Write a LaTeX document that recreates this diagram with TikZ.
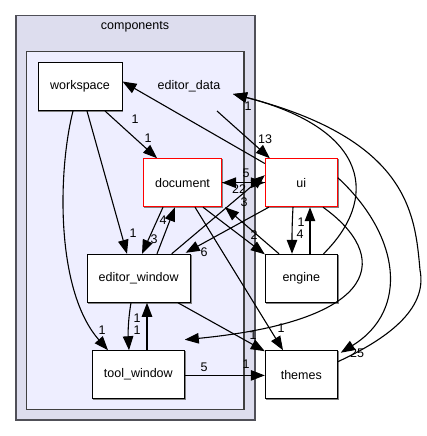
\documentclass[tikz,border=0pt]{standalone}
\usepackage{fontspec}
\setmainfont{Liberation Sans}
\usetikzlibrary{arrows.meta,calc}
\begin{document}
\begin{tikzpicture}[x=1pt,y=-1pt,
  dirbox/.style={draw=black,fill=white,line width=1pt,minimum height=48pt,inner sep=0pt,font=\fontsize{12.5}{14}\selectfont,
    preaction={draw=gray,line width=1pt,transform canvas={shift={(0.9pt,-0.9pt)}}}},
  redbox/.style={dirbox,draw=red},
  edge/.style={draw=black,line width=1.1pt,-{Triangle[length=14pt,width=10.5pt]}},
  lbl/.style={font=\fontsize{12.5}{14}\selectfont,inner sep=0pt}]
\useasboundingbox (0,0) rectangle (427,436);
% clusters
\draw[fill={rgb,255:red,221;green,221;blue,238},draw={rgb,255:red,80;green,80;blue,88},line width=1.6pt] (15.7,15.7) rectangle (254.7,420);
\node[lbl] (comp) at (135,27) {components};
\draw[fill={rgb,255:red,238;green,238;blue,255},draw={rgb,255:red,64;green,64;blue,64},line width=1.4pt] (26.7,51.7) rectangle (244,409.3);
\node[lbl] (edata) at (189,86) {editor\_data};
\coordinate (edin) at (233,94);
\coordinate (edout) at (217,111);
% nodes
\node[dirbox,minimum width=84pt] (workspace) at (80,86.5) {workspace};
\node[redbox,minimum width=78pt] (document) at (182.5,182.7) {document};
\node[redbox,minimum width=72pt] (ui) at (301.3,182.7) {ui};
\node[dirbox,minimum width=103pt] (editorwin) at (138.7,278.3) {editor\_window};
\node[dirbox,minimum width=72pt] (engine) at (301.3,278.3) {engine};
\node[dirbox,minimum width=92pt] (toolwin) at (138.3,374.7) {tool\_window};
\node[dirbox,minimum width=72pt] (themes) at (301.3,374.7) {themes};
% edges
\draw[edge] (edout) -- ([xshift=5pt]ui.north west);
\node[lbl] (l13) at (265,139) {13};
\draw[edge] ([xshift=25pt]workspace.south) -- ([xshift=-25.5pt]document.north);
\node[lbl] (l1a) at (148,138) {1};
\draw[edge] ([yshift=-5.3pt]ui.north west) -- ([yshift=-19.5pt]workspace.north east);
\node[lbl] (l1b) at (135,119) {1};
\draw[edge] (document.east) -- (ui.west);
\draw[edge] (ui.west) -- (document.east);
\node[lbl] (l5) at (246,173) {5};
\node[lbl] (l22) at (239,189) {22};
\draw[edge] ([xshift=-19pt]editorwin.north east) -- ([yshift=-17pt]ui.north west);
\node[lbl] (l3a) at (244,202) {3};
\draw[edge] ([xshift=4pt]ui.south west) -- ([xshift=-5pt,yshift=1pt]editorwin.north east);
\node[lbl] (l6) at (204,252) {6};
\draw[edge] ([xshift=-19.5pt]document.south) -- ([xshift=3.3pt]editorwin.north);
\node[lbl] (l3b) at (154,239) {3};
\draw[edge] ([xshift=18.3pt]editorwin.north) -- ([xshift=-7.5pt]document.south);
\node[lbl] (l4a) at (163,220) {4};
\draw[edge] ([xshift=7pt]workspace.south) -- ([xshift=-11.7pt]editorwin.north);
\node[lbl] (l1c) at (133,233) {1};
\draw[edge] ([xshift=-7pt]workspace.south) .. controls (58,170) and (55,290) .. ([xshift=-30.3pt]toolwin.north);
\node[lbl] (l1d) at (102,330) {1};
\draw[edge] ([xshift=20.5pt]document.south) -- ([yshift=-0.5pt]engine.north west);
\node[lbl] (l2) at (254,235) {2};
\draw[edge] ([xshift=-22.3pt]engine.north) -- ([xshift=3pt]document.south east);
\draw[edge] ([xshift=12.5pt]document.south) -- ([xshift=-18.3pt]themes.north);
\node[lbl] (l1e) at (281,328) {1};
\draw[edge] ([xshift=39.3pt]editorwin.south) -- ([yshift=-1pt]themes.north west);
\node[lbl] (l1f) at (253,335) {1};
\draw[edge] ([xshift=-7.7pt]editorwin.south) .. controls (128,320) and (128,335) .. ([xshift=-9.3pt]toolwin.north);
\node[lbl] (l1g) at (137,330) {1};
\draw[edge] ([xshift=8.7pt]toolwin.north) .. controls (147,335) and (147,320) .. ([xshift=8.3pt]editorwin.south);
\node[lbl] (l1h) at (137,318) {1};
\draw[edge] ([yshift=-0.7pt]toolwin.east) -- ([yshift=-0.7pt]themes.west);
\node[lbl] (l1i) at (246,364) {1};
\draw[edge] ([xshift=-8.3pt]ui.south) .. controls (292,225) and (292,235) .. ([xshift=-9.3pt]engine.north);
\node[lbl] (l4b) at (300,234) {4};
\node[lbl] (l1j) at (301,222) {1};
\draw[edge] ([xshift=8.7pt]engine.north) .. controls (310,235) and (310,225) .. ([xshift=8.7pt]ui.south);
\draw[edge] ([xshift=-14.3pt]engine.north east) .. controls (378,200) and (372,130) .. (edin);
\node[lbl] (l1k) at (248,106) {1};
\draw[edge] ([yshift=-19.5pt]ui.north east) .. controls (400,235) and (410,310) .. ([xshift=3pt,yshift=-2.5pt]themes.north east);
\node[lbl] (l25) at (357,353) {25};
\draw[edge] ([yshift=-11.5pt]themes.north east) .. controls (385,340) and (428,310) .. (420,270) .. controls (415,215) and (410,140) .. (edin);
\draw[edge] ([xshift=21.7pt]ui.south) .. controls (390,255) and (385,320) .. ([yshift=10.5pt]toolwin.north east);
\node[lbl] (l5b) at (204,367) {5};
\end{tikzpicture}
\end{document}
